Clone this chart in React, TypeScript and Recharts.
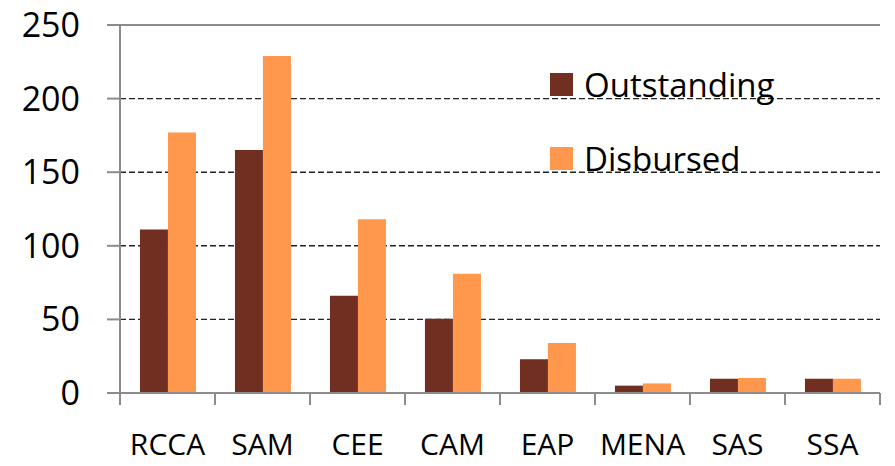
import React from 'react';
import { BarChart, Bar, XAxis, YAxis, CartesianGrid, Legend, ReferenceLine } from 'recharts';

const categories = ['RCCA', 'SAM', 'CEE', 'CAM', 'EAP', 'MENA', 'SAS', 'SSA'];
const outstanding = [111, 165, 66, 50.5, 23, 5, 9.7, 9.7];
const disbursed = [177, 229, 118, 81, 34, 6.5, 10.2, 9.7];
const yTicks = [0, 50, 100, 150, 200, 250];

const data = categories.map((c, i) => ({ name: c, Outstanding: outstanding[i], Disbursed: disbursed[i] }));

const FONT = '"Open Sans", sans-serif';
const DARK = '#702F21';
const ORANGE = '#FF974D';
const AXIS = '#8C8C8C';

function XTick(props: any) {
  const { x, y, payload, index } = props;
  const off = payload && typeof payload.offset === 'number' && payload.offset > 0 ? payload.offset : 47.5;
  return (
    <g>
      <line x1={x - off} x2={x - off} y1={y} y2={y + 12} stroke={AXIS} strokeWidth={2} />
      {index === categories.length - 1 && (
        <line x1={x + off} x2={x + off} y1={y} y2={y + 12} stroke={AXIS} strokeWidth={2} />
      )}
      <text x={x} y={y + 62} textAnchor="middle" fontFamily={FONT} fontSize={30} fill="#000">
        {payload.value}
      </text>
    </g>
  );
}

function LegendContent() {
  const items = [
    { label: 'Outstanding', color: DARK },
    { label: 'Disbursed', color: ORANGE },
  ];
  return (
    <div style={{ fontFamily: FONT }}>
      {items.map((it) => (
        <div key={it.label} style={{ display: 'flex', alignItems: 'center', height: 74 }}>
          <div style={{ width: 23, height: 23, background: it.color, marginRight: 11 }} />
          <span style={{ fontSize: 33, color: '#000', lineHeight: 1 }}>{it.label}</span>
        </div>
      ))}
    </div>
  );
}

export default function App() {
  return (
    <div style={{ position: 'absolute', left: 0, top: 0, width: 895, height: 466, background: '#fff' }}>
      <BarChart
        width={895}
        height={466}
        data={data}
        margin={{ top: 25, right: 15, bottom: 0, left: 0 }}
        barCategoryGap="21%"
        barGap={0}
      >
        <CartesianGrid vertical={false} stroke="#222" strokeDasharray="6 3" strokeWidth={1.4} />
        <XAxis
          dataKey="name"
          height={73}
          axisLine={{ stroke: AXIS, strokeWidth: 2 }}
          tickLine={false}
          tickSize={0}
          tickMargin={0}
          interval={0}
          tick={<XTick />}
        />
        <YAxis
          width={120}
          domain={[0, 250]}
          ticks={yTicks}
          interval={0}
          axisLine={{ stroke: AXIS, strokeWidth: 2 }}
          tickLine={{ stroke: AXIS, strokeWidth: 2 }}
          tickSize={13}
          tickMargin={27}
          tick={{ fontFamily: FONT, fontSize: 34, fill: '#000' }}
        />
        <YAxis
          yAxisId="right"
          orientation="right"
          width={0}
          domain={[0, 250]}
          tick={false}
          tickLine={false}
          axisLine={{ stroke: AXIS, strokeWidth: 2 }}
        />
        <ReferenceLine y={250} stroke={AXIS} strokeWidth={2} />
        <Legend
          layout="vertical"
          align="center"
          verticalAlign="middle"
          content={<LegendContent />}
          wrapperStyle={{ left: 550, top: 47, width: 320 }}
        />
        <Bar dataKey="Outstanding" fill={DARK} isAnimationActive={false} />
        <Bar dataKey="Disbursed" fill={ORANGE} isAnimationActive={false} />
      </BarChart>
    </div>
  );
}
